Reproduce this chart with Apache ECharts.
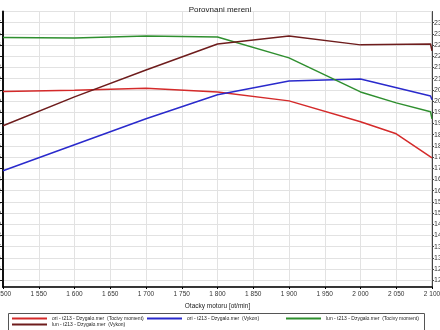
<!DOCTYPE html>
<html>
<head>
<meta charset="utf-8">
<script src="https://cdn.jsdelivr.net/npm/echarts@6/dist/echarts.min.js"></script>
<style>html,body{margin:0;padding:0;background:#fff}#c{width:440px;height:330px}</style>
</head>
<body>
<div id="c"></div>
<script>
const titleText = 'Porovnani mereni';
const xAxisName = 'Otacky motoru [ot/min]';

const oriTorqueName = 'ori - t213 - Dzygalo.mer  (Tocivy moment)';
const oriPowerName = 'ori - t213 - Dzygalo.mer  (Vykon)';
const lunTorqueName = 'lun - t213 - Dzygalo.mer  (Tocivy moment)';
const lunPowerName = 'lun - t213 - Dzygalo.mer  (Vykon)';

const oriTorqueRpm = [1500, 1600, 1700, 1800, 1900, 2000, 2050, 2100];
const oriTorque    = [204.3, 204.8, 205.7, 204.1, 200.1, 190.8, 185.4, 174.7];

const oriPowerRpm = [1500, 1600, 1700, 1800, 1900, 2000, 2098, 2100];
const oriPower    = [33.78, 36.1, 38.42, 40.56, 41.8, 41.98, 40.46, 40.12];

const lunTorqueRpm = [1500, 1600, 1700, 1800, 1900, 2000, 2050, 2098, 2100];
const lunTorque    = [228.4, 228.2, 229.1, 228.6, 219.3, 204.1, 199.2, 195.2, 192.1];

const lunPowerRpm = [1500, 1600, 1700, 1800, 1900, 2000, 2098, 2100];
const lunPower    = [37.8, 40.38, 42.78, 45.1, 45.82, 45.02, 45.1, 44.48];

const pair = (xs, ys) => xs.map((x, i) => [x, ys[i]]);
const thousands = v => String(v).replace(/\B(?=(\d{3})+(?!\d))/g, ' ');

const colors = { oriT: '#d42a2a', oriP: '#2a2acc', lunT: '#2f8f2f', lunP: '#6e1c1c' };

const chart = echarts.init(document.getElementById('c'), null, { renderer: 'canvas' });
const mkLine = (name, data, color, yIdx) => ({
  name, type: 'line', data, yAxisIndex: yIdx, showSymbol: false, symbol: 'none',
  lineStyle: { color, width: 1.5 }, itemStyle: { color }, animation: false
});
const legendText = { fontSize: 5, color: '#222', fontFamily: 'Liberation Sans' };
const mkLegend = (name, left, top) => ({
  data: [name], left, top, orient: 'horizontal', icon: 'rect', itemWidth: 35, itemHeight: 2,
  itemGap: 3, padding: 0, textStyle: legendText, selectedMode: false
});

chart.setOption({
  animation: false,
  title: { text: titleText, left: 'center', top: 1, textStyle: { fontSize: 8, fontWeight: 'normal', color: '#222', fontFamily: 'Liberation Sans' } },
  grid: { left: 3, right: 8, top: 11.5, bottom: 43, show: true, borderColor: '#aaa', borderWidth: 1, containLabel: false, outerBoundsMode: 'none' },
  xAxis: {
    type: 'value', min: 1500, max: 2100, interval: 50,
    name: xAxisName, nameLocation: 'middle', nameGap: 13,
    nameTextStyle: { fontSize: 6.5, color: '#222', fontFamily: 'Liberation Sans' },
    axisLine: { show: true, lineStyle: { color: '#000', width: 1.5 } },
    axisTick: { show: true, length: 2, lineStyle: { color: '#000' } },
    axisLabel: { fontSize: 6.5, color: '#333', margin: 4, formatter: thousands, fontFamily: 'Liberation Sans', hideOverlap: false },
    splitLine: { show: true, lineStyle: { color: '#e2e2e2', width: 1 } }
  },
  yAxis: [
    {
      type: 'value', position: 'left', min: 23.4, max: 48, minInterval: 1, maxInterval: 1, splitNumber: 25,
      axisLine: { show: true, lineStyle: { color: '#111', width: 2 } },
      axisTick: { show: true, length: 3, lineStyle: { color: '#111' } },
      axisLabel: { fontSize: 7, color: '#333', margin: 2, showMinLabel: false, showMaxLabel: false, fontFamily: 'Liberation Sans' },
      splitLine: { show: false }
    },
    {
      type: 'value', position: 'right', min: 117, max: 240, minInterval: 5, maxInterval: 5, splitNumber: 25,
      axisLine: { show: true, lineStyle: { color: '#444', width: 1 } },
      axisTick: { show: true, length: 2, lineStyle: { color: '#444' } },
      axisLabel: { fontSize: 7, color: '#333', margin: 2, showMinLabel: false, showMaxLabel: false, fontFamily: 'Liberation Sans' },
      splitLine: { show: true, lineStyle: { color: '#e2e2e2', width: 1 } }
    }
  ],
  legend: [
    mkLegend(oriTorqueName, 12, 316),
    mkLegend(oriPowerName, 147, 316),
    mkLegend(lunTorqueName, 286, 316),
    mkLegend(lunPowerName, 12, 322)
  ],
  graphic: [{ type: 'rect', shape: { x: 8.5, y: 313.5, width: 416, height: 22 }, style: { fill: 'none', stroke: '#555', lineWidth: 1 }, silent: true }],
  series: [
    mkLine(oriTorqueName, pair(oriTorqueRpm, oriTorque), colors.oriT, 1),
    mkLine(oriPowerName, pair(oriPowerRpm, oriPower), colors.oriP, 0),
    mkLine(lunTorqueName, pair(lunTorqueRpm, lunTorque), colors.lunT, 1),
    mkLine(lunPowerName, pair(lunPowerRpm, lunPower), colors.lunP, 0)
  ]
});
</script>
</body>
</html>
